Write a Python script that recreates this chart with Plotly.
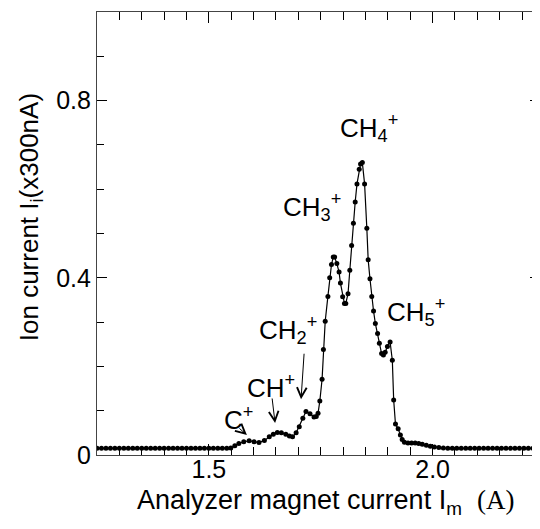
import plotly.graph_objects as go

# ---- data ----
x_vals = [1.25, 1.26, 1.27, 1.28, 1.29, 1.30, 1.31, 1.32, 1.33, 1.34,
          1.35, 1.36, 1.37, 1.38, 1.39, 1.40, 1.41, 1.42, 1.43, 1.44,
          1.45, 1.46, 1.47, 1.48, 1.49, 1.50, 1.51, 1.52, 1.53, 1.54,
          1.549, 1.558, 1.567, 1.578, 1.590, 1.601, 1.612, 1.624, 1.635, 1.644,
          1.653, 1.662, 1.672, 1.680, 1.687, 1.695, 1.702, 1.710, 1.717, 1.726,
          1.735, 1.740, 1.744, 1.748, 1.753, 1.756, 1.760, 1.766, 1.770, 1.774,
          1.778, 1.781, 1.786, 1.791, 1.794, 1.799, 1.803, 1.806, 1.811, 1.815,
          1.819, 1.823, 1.827, 1.831, 1.836, 1.839, 1.843, 1.848, 1.853, 1.856,
          1.860, 1.864, 1.868, 1.872, 1.877, 1.881, 1.886, 1.890, 1.894, 1.899,
          1.905, 1.910, 1.913, 1.917, 1.923, 1.928, 1.932, 1.937, 1.945, 1.953,
          1.961, 1.969, 1.977, 1.986, 1.995, 2.004, 2.014, 2.024, 2.034, 2.044,
          2.054, 2.064, 2.074, 2.084, 2.094, 2.104, 2.114, 2.124, 2.134, 2.144,
          2.154, 2.164, 2.174, 2.184, 2.194, 2.204, 2.214, 2.224, 2.234, 2.24]
y_vals = [0.015, 0.015, 0.015, 0.015, 0.015, 0.015, 0.015, 0.015, 0.015, 0.015,
          0.015, 0.015, 0.015, 0.015, 0.015, 0.015, 0.015, 0.015, 0.015, 0.015,
          0.015, 0.015, 0.015, 0.015, 0.015, 0.015, 0.015, 0.015, 0.015, 0.015,
          0.016, 0.021, 0.026, 0.030, 0.032, 0.030, 0.028, 0.033, 0.041, 0.047,
          0.051, 0.050, 0.047, 0.043, 0.041, 0.050, 0.064, 0.083, 0.098, 0.093,
          0.086, 0.087, 0.094, 0.122, 0.171, 0.238, 0.302, 0.358, 0.400, 0.430,
          0.447, 0.447, 0.432, 0.413, 0.388, 0.357, 0.342, 0.342, 0.364, 0.417,
          0.473, 0.523, 0.571, 0.612, 0.645, 0.657, 0.660, 0.612, 0.512, 0.441,
          0.398, 0.358, 0.325, 0.297, 0.274, 0.252, 0.229, 0.226, 0.232, 0.245,
          0.255, 0.214, 0.124, 0.070, 0.059, 0.045, 0.035, 0.029, 0.027, 0.027,
          0.027, 0.026, 0.024, 0.022, 0.020, 0.018, 0.017, 0.016, 0.015, 0.015,
          0.015, 0.015, 0.015, 0.015, 0.015, 0.015, 0.015, 0.015, 0.015, 0.015,
          0.015, 0.015, 0.015, 0.015, 0.015, 0.015, 0.015, 0.015, 0.015, 0.015]

ion_labels = ["C<sup>+</sup>", "CH<sup>+</sup>", "CH<sub>2</sub><sup>+</sup>",
              "CH<sub>3</sub><sup>+</sup>", "CH<sub>4</sub><sup>+</sup>",
              "CH<sub>5</sub><sup>+</sup>"]
label_x = [1.567, 1.639, 1.677, 1.731, 1.857, 1.962]
label_y = [0.083, 0.155, 0.282, 0.559, 0.739, 0.322]

# arrows: tail -> head
arrow_tail_x = [1.565, 1.641, 1.713]
arrow_tail_y = [0.063, 0.131, 0.232]
arrow_head_x = [1.585, 1.648, 1.706]
arrow_head_y = [0.045, 0.072, 0.126]

x_range = [1.25, 2.24]
y_range = [0, 1.0]
x_tickvals = [1.5, 2.0]
x_ticktext = ["1.5", "2.0"]
y_tickvals = [0, 0.4, 0.8]
y_ticktext = ["0", "0.4", "0.8"]

FONT = "Liberation Sans, Arial, sans-serif"

fig = go.Figure()
fig.add_trace(go.Scatter(
    x=x_vals, y=y_vals, mode="lines+markers",
    line=dict(color="black", width=1.2),
    marker=dict(color="black", size=5),
    showlegend=False, hoverinfo="skip"))
# invisible trace to carry the mirrored (top/right) tick axes
fig.add_trace(go.Scatter(x=x_range, y=y_range, xaxis="x2", yaxis="y2",
                         mode="markers", marker=dict(opacity=0),
                         showlegend=False, hoverinfo="skip"))

annotations = []
for t, lx, ly in zip(ion_labels, label_x, label_y):
    annotations.append(dict(x=lx, y=ly, xref="x", yref="y", text=t,
                            showarrow=False, font=dict(size=26, color="black", family=FONT),
                            xanchor="center", yanchor="middle"))
for tx, ty, hx, hy in zip(arrow_tail_x, arrow_tail_y, arrow_head_x, arrow_head_y):
    annotations.append(dict(x=hx, y=hy, ax=tx, ay=ty, xref="x", yref="y",
                            axref="x", ayref="y", text="", showarrow=True,
                            arrowhead=5, arrowsize=1.9, arrowwidth=1.0,
                            arrowcolor="black"))

# axis titles
annotations.append(dict(x=-0.151, y=0.537, xref="paper", yref="paper",
                        text="Ion current I<sub>i</sub>(x300nA)", textangle=-90,
                        showarrow=False, font=dict(size=26, color="black", family=FONT),
                        xanchor="center", yanchor="middle"))
annotations.append(dict(x=0.516, y=-0.105, xref="paper", yref="paper",
                        text="Analyzer magnet current I<sub>m</sub>  <span style=\"font-family:'Liberation Serif', serif\">(A)</span>",
                        showarrow=False, font=dict(size=27, color="black", family=FONT),
                        xanchor="center", yanchor="middle"))

# the page body adds an 8px offset; size and margins compensate for it
fig.update_layout(
    width=532, height=521,
    margin=dict(l=89, r=0, t=4, b=74),
    plot_bgcolor="white", paper_bgcolor="white",
    font=dict(family=FONT, color="black", size=25),
    annotations=annotations,
)
fig.update_layout(
    xaxis=dict(range=x_range, tickmode="array", tickvals=x_tickvals,
               ticktext=x_ticktext, ticks="inside", ticklen=11, tickwidth=1.2,
               tickcolor="black", showline=True, linecolor="#444", linewidth=1.2,
               mirror=True, showgrid=False, zeroline=False,
               tickfont=dict(size=25), ticklabelstandoff=-8,
               minor=dict(dtick=0.05, tick0=1.25, ticks="inside", ticklen=8,
                          tickwidth=1.2, tickcolor="black", showgrid=False)),
    yaxis=dict(range=y_range, tickmode="array", tickvals=y_tickvals,
               ticktext=y_ticktext, ticks="inside", ticklen=10, tickwidth=1.2,
               tickcolor="black", showline=True, linecolor="#444", linewidth=1.2,
               mirror=True, showgrid=False, zeroline=False,
               tickfont=dict(size=25),
               minor=dict(dtick=0.1, tick0=0, ticks="inside", ticklen=7,
                          tickwidth=1.2, tickcolor="black", showgrid=False)),
    xaxis2=dict(range=x_range, overlaying="x", side="top", anchor="y2",
                tickmode="array", tickvals=x_tickvals, showticklabels=False,
                ticks="inside", ticklen=11, tickwidth=1.2, tickcolor="black",
                showline=False, showgrid=False, zeroline=False,
                minor=dict(dtick=0.05, tick0=1.25, ticks="inside", ticklen=8,
                           tickwidth=1.2, tickcolor="black", showgrid=False)),
    yaxis2=dict(range=y_range, overlaying="y", side="right", anchor="x2",
                tickmode="array", tickvals=y_tickvals, showticklabels=False,
                ticks="inside", ticklen=10, tickwidth=1.2, tickcolor="black",
                showline=False, showgrid=False, zeroline=False,
                minor=dict(dtick=0.1, tick0=0, ticks="inside", ticklen=7,
                           tickwidth=1.2, tickcolor="black", showgrid=False)),
)

fig.write_html("out.html")
